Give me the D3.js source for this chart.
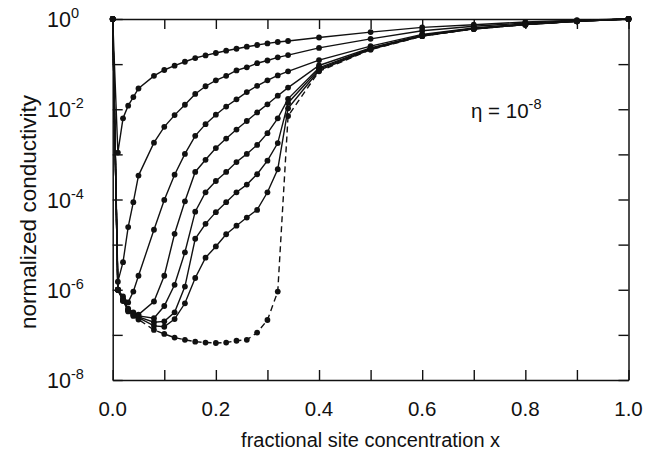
<!DOCTYPE html>
<html>
<head>
<meta charset="utf-8">
<script src="https://cdn.jsdelivr.net/npm/d3@7"></script>
<style>
  html, body { margin: 0; padding: 0; background: #fff; }
  svg { display: block; }
  text { font-family: "Liberation Sans", Arial, Helvetica, sans-serif; fill: #111; }
</style>
</head>
<body>
<svg id="chart" width="657" height="452"></svg>
<script>
// ---- data (log10 of normalized conductivity) ----
const xGrid = [0, 0.01, 0.02, 0.03, 0.04, 0.05, 0.08, 0.10, 0.12, 0.14, 0.16, 0.18, 0.20, 0.22, 0.24, 0.26, 0.28, 0.30, 0.32, 0.34, 0.40, 0.50, 0.60, 0.70, 0.80, 0.90, 1.00];

const curve1 = [0, -2.96, -2.20, -1.92, -1.73, -1.54, -1.26, -1.13, -1.035, -0.947, -0.865, -0.807, -0.754, -0.703, -0.659, -0.614, -0.576, -0.541, -0.51, -0.488, -0.41, -0.29, -0.186, -0.126, -0.065, -0.025, 0];
const curve2 = [0, -5.82, -5.39, -4.61, -4.06, -3.47, -2.74, -2.39, -2.13, -1.90, -1.66, -1.49, -1.36, -1.26, -1.14, -1.07, -0.98, -0.92, -0.85, -0.80, -0.64, -0.44, -0.26, -0.16, -0.09, -0.035, 0];
const curve3 = [0, -6.00, -6.15, -6.28, -6.04, -5.69, -4.67, -4.01, -3.45, -2.99, -2.59, -2.33, -2.12, -1.94, -1.78, -1.62, -1.48, -1.36, -1.25, -1.16, -0.91, -0.60, -0.34, -0.20, -0.11, -0.045, 0];
const curve4 = [0, -6.00, -6.20, -6.42, -6.50, -6.55, -6.26, -5.69, -4.76, -4.04, -3.39, -3.12, -2.86, -2.65, -2.45, -2.26, -2.07, -1.89, -1.70, -1.52, -1.03, -0.64, -0.36, -0.21, -0.12, -0.05, 0];
const curve5 = [0, -6.00, -6.22, -6.44, -6.52, -6.58, -6.63, -6.36, -5.89, -5.17, -4.27, -3.84, -3.59, -3.39, -3.17, -2.99, -2.79, -2.53, -2.20, -1.77, -1.08, -0.65, -0.37, -0.21, -0.12, -0.05, 0];
const curve6 = [0, -6.00, -6.23, -6.45, -6.54, -6.60, -6.72, -6.70, -6.50, -5.93, -4.87, -4.54, -4.28, -4.06, -3.84, -3.67, -3.44, -3.14, -2.75, -1.86, -1.11, -0.66, -0.37, -0.22, -0.125, -0.05, 0];
const curve7 = [0, -6.00, -6.24, -6.46, -6.56, -6.62, -6.80, -6.82, -6.65, -6.30, -5.74, -5.29, -5.04, -4.77, -4.58, -4.40, -4.23, -3.84, -3.33, -1.98, -1.14, -0.67, -0.38, -0.22, -0.125, -0.05, 0];
const curveDashed = [0, -6.00, -6.25, -6.48, -6.58, -6.66, -6.89, -6.98, -7.06, -7.11, -7.15, -7.17, -7.18, -7.17, -7.13, -7.11, -6.95, -6.67, -6.04, -2.15, -1.16, -0.68, -0.38, -0.22, -0.125, -0.05, 0];

const solidCurves = [curve1, curve2, curve3, curve4, curve5, curve6, curve7];

const xTicks = [0, 0.1, 0.2, 0.3, 0.4, 0.5, 0.6, 0.7, 0.8, 0.9, 1.0];
const xTickLabels = ["0.0", "", "0.2", "", "0.4", "", "0.6", "", "0.8", "", "1.0"];
const yExponents = [0, -1, -2, -3, -4, -5, -6, -7, -8];
const yLabelExponents = [0, -2, -4, -6, -8];

const xTitle = "fractional site concentration x";
const yTitle = "normalized conductivity";

// ---- layout ----
const svg = d3.select("#chart");
const L = 112.7, R = 628.5, T = 19, B = 380;

const x = d3.scaleLinear().domain([0, 1]).range([L, R]);
const y = d3.scaleLog().domain([1e-8, 1]).range([B, T]);

svg.append("rect").attr("width", 657).attr("height", 452).attr("fill", "#fff");

// frame axes with inward ticks
const tickLen = 10;
const g = svg.append("g");

function styleAxis(sel) {
  sel.selectAll("path.domain").attr("stroke", "#111").attr("stroke-width", 1.5);
  sel.selectAll(".tick line").attr("stroke", "#111").attr("stroke-width", 1.4);
  sel.selectAll(".tick text").remove();
}

g.append("g").attr("transform", `translate(0,${B})`)
  .call(d3.axisBottom(x).tickValues(xTicks).tickSize(-tickLen).tickSizeOuter(0).tickFormat(""))
  .call(styleAxis);
g.append("g").attr("transform", `translate(0,${T})`)
  .call(d3.axisTop(x).tickValues(xTicks).tickSize(-tickLen).tickSizeOuter(0).tickFormat(""))
  .call(styleAxis);
const yVals = yExponents.map(e => Math.pow(10, e));
g.append("g").attr("transform", `translate(${L},0)`)
  .call(d3.axisLeft(y).tickValues(yVals).tickSize(-tickLen).tickSizeOuter(0).tickFormat(""))
  .call(styleAxis);
g.append("g").attr("transform", `translate(${R},0)`)
  .call(d3.axisRight(y).tickValues(yVals).tickSize(-tickLen).tickSizeOuter(0).tickFormat(""))
  .call(styleAxis);

// x tick labels
svg.append("g").selectAll("text")
  .data(xTicks.map((v, i) => ({ v, t: xTickLabels[i] })).filter(d => d.t))
  .join("text")
  .attr("x", d => x(d.v))
  .attr("y", 416)
  .attr("text-anchor", "middle")
  .attr("font-size", 20.5)
  .text(d => d.t);

// y tick labels 10^n
const yl = svg.append("g").selectAll("text")
  .data(yLabelExponents)
  .join("text")
  .attr("x", 47)
  .attr("y", d => y(Math.pow(10, d)) + 8)
  .attr("font-size", 21.5);
yl.append("tspan").text("10");
yl.append("tspan").attr("font-size", 14.5).attr("dy", -9).text(d => String(d));

// axis titles
svg.append("text")
  .attr("x", (L + R) / 2).attr("y", 447)
  .attr("text-anchor", "middle").attr("font-size", 20)
  .text(xTitle);
svg.append("text")
  .attr("transform", `translate(36,${212}) rotate(-90)`)
  .attr("text-anchor", "middle").attr("font-size", 22.5)
  .text(yTitle);

// annotation
const ann = svg.append("text").attr("x", 471).attr("y", 118).attr("font-size", 20.5);
ann.append("tspan").text("\u03B7 = 10");
ann.append("tspan").attr("font-size", 14.5).attr("dy", -9).text("-8");

// curves
const line = d3.line()
  .x((d, i) => x(xGrid[i]))
  .y(d => y(Math.pow(10, d)));

const curvesG = svg.append("g");
solidCurves.forEach(c => {
  curvesG.append("path").datum(c)
    .attr("d", line)
    .attr("fill", "none").attr("stroke", "#111").attr("stroke-width", 1.4);
});
curvesG.append("path").datum(curveDashed)
  .attr("d", line)
  .attr("fill", "none").attr("stroke", "#111").attr("stroke-width", 1.4)
  .attr("stroke-dasharray", "6,4");

[...solidCurves, curveDashed].forEach(c => {
  curvesG.append("g").selectAll("circle")
    .data(c)
    .join("circle")
    .attr("cx", (d, i) => x(xGrid[i]))
    .attr("cy", d => y(Math.pow(10, d)))
    .attr("r", 2.9)
    .attr("fill", "#111");
});
</script>
</body>
</html>
